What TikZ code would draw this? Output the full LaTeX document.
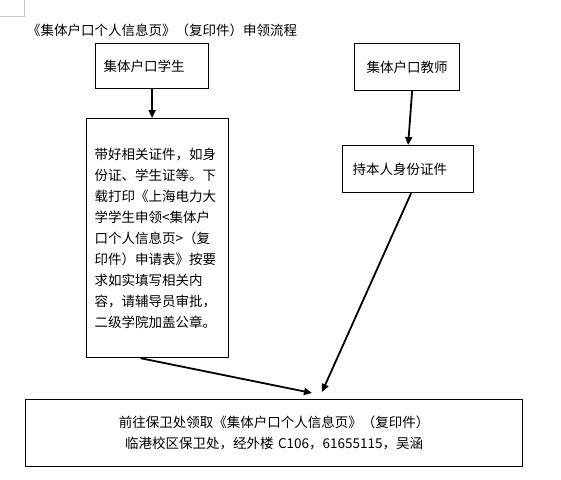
\documentclass[tikz,border=0pt]{standalone}
\usepackage{fontspec}
\setmainfont{Noto Sans CJK SC}
\usetikzlibrary{arrows.meta}
\begin{document}
\begin{tikzpicture}[x=1pt, y=-1pt, font=\fontsize{13.5}{21}\selectfont,
    box/.style={draw=black, line width=1.2pt, anchor=north west, inner ysep=0pt},
    flow/.style={line width=1.8pt, -{Triangle[length=8pt, width=7pt]}}]
  \useasboundingbox (0,0) rectangle (561,479);
  % page corner mark
  \draw[gray!45, line width=1pt] (0,16) -- (24.5,16) -- (24.5,0);
  \node[anchor=west, inner sep=0pt] (title) at (27,30) {《集体户口个人信息页》（复印件）申领流程};
  % left column
  \node[box, text width=97pt, inner xsep=8pt, minimum height=45pt, align=left] (student) at (95,43) {集体户口学生};
  \node[box, text width=126pt, inner xsep=8pt, minimum height=239pt, align=left] (form) at (86,118)
    {带好相关证件，如身\\份证、学生证等。下\\载打印《上海电力大\\学学生申领<集体户\\口个人信息页>（复\\印件）申请表》按要\\求如实填写相关内\\容，请辅导员审批，\\二级学院加盖公章。};
  % right column
  \node[box, text width=89pt, inner xsep=8pt, minimum height=47pt, align=center] (teacher) at (354,43) {集体户口教师};
  \node[box, text width=111pt, inner xsep=10pt, minimum height=47pt, align=left] (idcard) at (342,145) {持本人身份证件};
  % bottom
  \node[box, text width=481pt, inner xsep=8pt, minimum height=67pt, align=center] (fetch) at (25,399)
    {前往保卫处领取《集体户口个人信息页》（复印件）\\临港校区保卫处，经外楼 C106，61655115，吴涵};
  \coordinate (tipL) at (312,393);
  \coordinate (tipR) at (322,392);
  \draw[flow] (student.south) -- (student.south |- form.north);
  \draw[flow] ([xshift=5pt]teacher.south) -- (idcard.north);
  \draw[flow] ([xshift=3pt]idcard.south) -- (tipR);
  \draw[flow] ([xshift=-17pt]form.south) -- (tipL);
\end{tikzpicture}
\end{document}
